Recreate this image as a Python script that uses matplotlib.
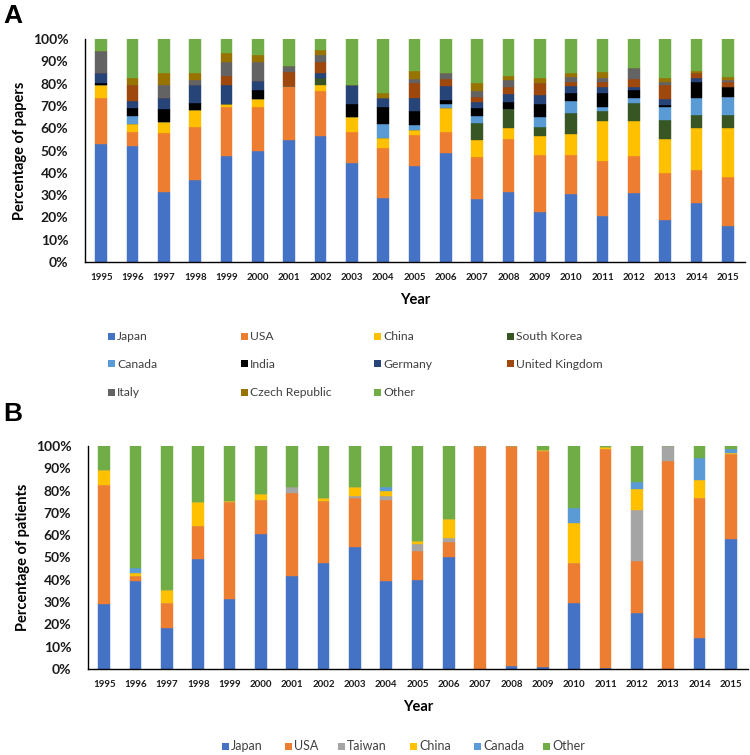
import matplotlib
matplotlib.use("Agg")
import matplotlib.pyplot as plt
from matplotlib.patches import Rectangle
import numpy as np

plt.rcParams['font.family'] = ['Lato', 'DejaVu Sans']

years = [str(y) for y in range(1995, 2016)]

# Panel A: percentage of papers (stacked bottom -> top)
papers_japan   = [52.8, 51.8, 31.3, 36.7, 47.6, 50.0, 54.6, 56.4, 44.2, 28.7, 43.1, 48.8, 28.1, 31.3, 22.2, 30.4, 20.7, 30.9, 18.7, 26.3, 16.0]
papers_usa     = [20.9, 6.7, 26.5, 23.7, 21.7, 19.4, 24.1, 20.5, 14.3, 22.5, 13.8, 9.7, 18.9, 23.9, 25.9, 17.7, 24.7, 16.7, 21.4, 15.0, 21.9]
papers_china   = [5.7, 3.4, 5.2, 7.8, 1.6, 3.6, 0.0, 2.5, 6.3, 4.6, 2.1, 10.5, 7.5, 4.8, 8.5, 9.4, 17.9, 15.7, 15.1, 19.0, 22.4]
papers_skorea  = [0.0, 0.0, 0.0, 0.0, 0.0, 0.0, 0.0, 3.0, 0.0, 0.0, 0.0, 0.0, 8.0, 8.5, 4.1, 9.2, 4.2, 8.2, 8.5, 5.7, 5.7]
papers_canada  = [0.0, 3.6, 0.0, 0.0, 0.0, 0.0, 0.0, 0.0, 0.0, 6.0, 2.5, 1.9, 3.0, 0.0, 4.2, 5.7, 2.2, 2.2, 5.7, 7.7, 8.2]
papers_india   = [0.7, 3.5, 5.5, 3.3, 0.0, 4.2, 0.0, 0.0, 6.1, 7.5, 6.0, 1.8, 3.5, 3.4, 6.0, 3.6, 6.0, 3.5, 1.0, 6.9, 4.2]
papers_germany = [4.5, 3.4, 5.2, 7.9, 8.5, 4.0, 0.0, 2.2, 8.5, 4.4, 6.2, 6.0, 2.9, 3.3, 4.0, 2.7, 2.7, 1.2, 2.6, 2.1, 0.0]
papers_uk      = [0.0, 7.0, 0.0, 0.0, 4.2, 0.0, 6.7, 5.0, 0.0, 0.0, 6.4, 3.2, 2.3, 3.2, 5.2, 2.2, 2.5, 3.5, 6.4, 1.9, 2.5]
papers_italy   = [10.2, 0.0, 5.7, 2.2, 6.0, 8.4, 2.7, 3.2, 0.0, 0.0, 1.8, 2.7, 2.5, 3.2, 0.0, 2.2, 1.5, 5.3, 1.5, 0.0, 0.7]
papers_czech   = [0.0, 3.3, 5.2, 3.0, 4.3, 3.2, 0.0, 2.3, 0.0, 2.3, 3.9, 0.0, 3.4, 1.8, 2.3, 1.8, 3.0, 0.0, 1.5, 1.2, 1.2]
papers_other   = [5.2, 17.3, 15.4, 15.4, 6.1, 7.2, 11.9, 4.9, 20.6, 24.0, 14.2, 15.4, 19.9, 16.6, 17.6, 15.1, 14.6, 12.8, 17.6, 14.2, 17.2]

papers_names = ["Japan", "USA", "China", "South Korea", "Canada", "India",
                "Germany", "United Kingdom", "Italy", "Czech Republic", "Other"]
papers_series = [papers_japan, papers_usa, papers_china, papers_skorea, papers_canada,
                 papers_india, papers_germany, papers_uk, papers_italy, papers_czech, papers_other]
papers_colors = ["#4472C4", "#ED7D31", "#FFC000", "#375623", "#5B9BD5", "#000000",
                 "#264478", "#9E480E", "#636363", "#997300", "#70AD47"]

# Panel B: percentage of patients
patients_japan  = [29.1, 39.5, 18.3, 49.2, 31.4, 60.4, 41.9, 47.7, 54.5, 39.5, 39.9, 50.4, 0.0, 1.2, 1.0, 29.8, 0.5, 25.3, 0.0, 13.9, 58.1]
patients_usa    = [53.6, 2.4, 11.5, 15.0, 43.3, 15.6, 37.1, 27.6, 22.3, 36.2, 13.0, 6.4, 100.0, 98.8, 96.8, 17.6, 98.3, 23.1, 93.3, 62.9, 38.2]
patients_taiwan = [0.0, 0.0, 0.0, 0.0, 0.0, 0.0, 2.4, 0.0, 0.8, 1.8, 3.1, 1.8, 0.0, 0.0, 0.0, 0.0, 0.0, 22.8, 6.7, 0.0, 0.0]
patients_china  = [6.4, 1.0, 5.7, 10.5, 0.7, 2.4, 0.0, 1.2, 3.8, 2.4, 1.4, 8.6, 0.0, 0.0, 0.6, 17.9, 0.7, 9.7, 0.0, 7.8, 0.7]
patients_canada = [0.0, 2.3, 0.0, 0.0, 0.0, 0.0, 0.0, 0.0, 0.0, 1.5, 0.0, 0.0, 0.0, 0.0, 0.0, 6.7, 0.0, 3.0, 0.0, 10.2, 1.8]
patients_other  = [10.9, 54.8, 64.5, 25.3, 24.6, 21.6, 18.6, 23.5, 18.6, 18.6, 42.6, 32.8, 0.0, 0.0, 1.6, 28.0, 0.5, 16.1, 0.0, 5.2, 1.2]

patients_names = ["Japan", "USA", "Taiwan", "China", "Canada", "Other"]
patients_series = [patients_japan, patients_usa, patients_taiwan, patients_china,
                   patients_canada, patients_other]
patients_colors = ["#4472C4", "#ED7D31", "#A5A5A5", "#FFC000", "#5B9BD5", "#70AD47"]

W, H = 750, 755
fig = plt.figure(figsize=(7.5, 7.55), dpi=100)


def px_axes(x0, y0, x1, y1):
    return fig.add_axes([x0 / W, 1 - y1 / H, (x1 - x0) / W, (y1 - y0) / H])


def draw_panel(ax, series, colors, names, ylabel):
    x = np.arange(len(years))
    bottom = np.zeros(len(years))
    for vals, c, n in zip(series, colors, names):
        v = np.array(vals, dtype=float)
        ax.bar(x, v, bottom=bottom, width=0.37, color=c, label=n,
               edgecolor=c, linewidth=0.3)
        bottom += v
    ax.set_xlim(-0.52, len(years) - 0.45)
    ax.set_ylim(0, 100)
    ax.set_yticks(np.arange(0, 101, 10))
    ax.set_yticklabels([f"{t}%" for t in range(0, 101, 10)],
                       fontsize=10, fontweight='bold', color='#1a1a1a')
    ax.set_xticks(x)
    ax.set_xticklabels(years, fontsize=7, fontweight='bold', color='#1a1a1a')
    ax.tick_params(axis='y', length=0, pad=12)
    ax.tick_params(axis='x', length=0, pad=8)
    for s in ['top', 'right']:
        ax.spines[s].set_visible(False)
    ax.spines['left'].set_linewidth(1.0)
    ax.spines['bottom'].set_linewidth(1.0)
    ax.set_xlabel("Year", fontsize=10.5, fontweight='bold', labelpad=8)
    ax.set_ylabel(ylabel, fontsize=10.5, fontweight='bold', labelpad=4)


def manual_legend(names, colors, xs, ys, fontsize):
    for n, c, xx, yy in zip(names, colors, xs, ys):
        fig.add_artist(Rectangle((xx / W, 1 - (yy + 3.5) / H), 7 / W, 7 / H,
                                 transform=fig.transFigure, facecolor=c,
                                 edgecolor='none'))
        fig.text((xx + 9) / W, 1 - yy / H, n, fontsize=fontsize,
                 color='#404040', va='center', ha='left')


axA = px_axes(85, 39, 745, 262)
draw_panel(axA, papers_series, papers_colors, papers_names, "Percentage of papers")
axB = px_axes(88, 446, 748, 669)
draw_panel(axB, patients_series, patients_colors, patients_names, "Percentage of patients")

fig.text(3 / W, 1 - 16 / H, "A", fontsize=19, fontweight='bold',
         family=['Liberation Sans', 'DejaVu Sans'], va='center', ha='left')
fig.text(3 / W, 1 - 414 / H, "B", fontsize=19, fontweight='bold',
         family=['Liberation Sans', 'DejaVu Sans'], va='center', ha='left')

colx = [108, 241, 374, 507]
rowy = [336, 364, 392]
xsA = [colx[i % 4] for i in range(len(papers_names))]
ysA = [rowy[i // 4] for i in range(len(papers_names))]
manual_legend(papers_names, papers_colors, xsA, ysA, 8.7)

xsB = [222, 285, 338, 410, 474, 543]
ysB = [746] * len(patients_names)
manual_legend(patients_names, patients_colors, xsB, ysB, 9)

fig.savefig("out.png", dpi=100)
